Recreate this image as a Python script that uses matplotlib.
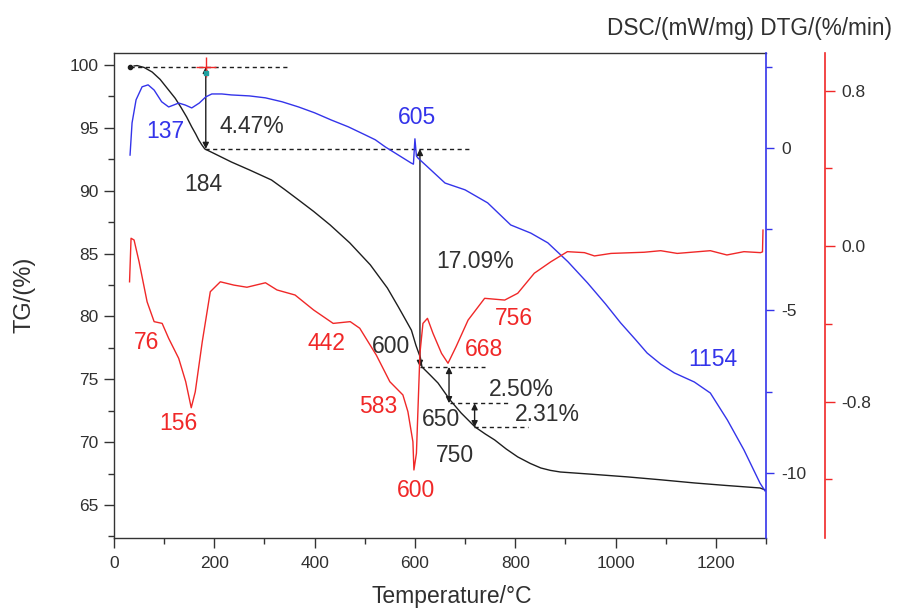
import matplotlib
matplotlib.use("Agg")
import matplotlib.pyplot as plt
from matplotlib.ticker import MultipleLocator, FixedLocator, FormatStrFormatter

plt.rcParams['font.family'] = ['Liberation Sans', 'DejaVu Sans']
plt.rcParams['axes.unicode_minus'] = False

# ---------------- data ----------------
tg_T = [40, 46, 60, 76, 92, 109, 122, 133, 145, 155, 163, 169, 175, 181, 200, 234, 270, 314,
        340, 368, 398, 431, 470, 511, 545, 567, 579, 593, 602, 611, 614, 630, 646, 670, 692,
        720, 740, 759, 782, 805, 830, 851, 870, 890, 950, 1024, 1090, 1157, 1220, 1288, 1298]
tg_val = [99.92, 99.95, 99.8, 99.44, 98.85, 98.0, 97.35, 96.66, 95.85, 95.07, 94.5, 94.03,
          93.65, 93.32, 92.95, 92.28, 91.65, 90.85, 90.1, 89.26, 88.35, 87.27, 85.85, 84.1,
          82.26, 80.75, 79.9, 78.9, 77.7, 76.7, 75.98, 75.35, 74.70, 73.35, 72.32, 71.20,
          70.65, 70.17, 69.45, 68.82, 68.3, 67.94, 67.75, 67.62, 67.45, 67.23, 67.0, 66.75,
          66.55, 66.35, 66.2]

dsc_T = [32, 36, 44, 56, 68, 80, 95, 109, 129, 142, 155, 170, 183, 195, 215, 234, 270, 302,
         335, 368, 400, 433, 467, 501, 521, 541, 567, 592, 597, 600, 603, 606, 632, 660, 700,
         745, 791, 831, 865, 905, 944, 980, 1010, 1040, 1063, 1090, 1117, 1157, 1189, 1223,
         1256, 1288, 1298]
dsc_val = [-0.22, 0.77, 1.48, 1.88, 1.94, 1.78, 1.42, 1.26, 1.38, 1.32, 1.23, 1.38, 1.57,
           1.66, 1.66, 1.63, 1.60, 1.54, 1.42, 1.26, 1.08, 0.86, 0.65, 0.40, 0.25, 0.03,
           -0.22, -0.46, -0.50, 0.28, -0.25, -0.31, -0.68, -1.08, -1.29, -1.69, -2.37,
           -2.62, -2.92, -3.50, -4.15, -4.80, -5.38, -5.90, -6.31, -6.65, -6.92, -7.20,
           -7.54, -8.37, -9.29, -10.31, -10.55]

dtg_T = [31, 34, 40, 50, 66, 80, 96, 109, 129, 143, 154, 162, 176, 192, 212, 239, 265, 302,
         325, 361, 398, 437, 471, 490, 523, 550, 576, 586, 596, 598, 603, 610, 616, 625, 636,
         653, 666, 682, 706, 739, 779, 805, 838, 871, 904, 938, 958, 991, 1057, 1090, 1123,
         1189, 1222, 1256, 1289, 1293, 1294]
dtg_val = [-0.184, 0.040, 0.031, -0.081, -0.287, -0.389, -0.398, -0.475, -0.578, -0.698,
           -0.832, -0.750, -0.492, -0.235, -0.184, -0.201, -0.212, -0.189, -0.226, -0.252,
           -0.329, -0.398, -0.389, -0.423, -0.561, -0.698, -0.766, -0.852, -1.007, -1.152,
           -1.066, -0.552, -0.398, -0.372, -0.449, -0.552, -0.603, -0.518, -0.381, -0.269,
           -0.278, -0.243, -0.140, -0.081, -0.029, -0.034, -0.051, -0.038, -0.032, -0.024,
           -0.038, -0.024, -0.046, -0.029, -0.034, -0.030, 0.082]

# TG step annotations: arrow temperature, upper level, lower level
step_T = [183, 610, 668, 719]
step_top = [99.84, 93.32, 75.98, 73.09]
step_bot = [93.32, 75.98, 73.09, 71.18]
# dashed reference lines (level, start T, end T)
dash_level = [99.84, 93.32, 75.98, 73.09, 71.18]
dash_T0 = [32, 181, 610, 669, 718]
dash_T1 = [348, 710, 740, 791, 825]

# labels: text, T, TG-position, colour key
lab_text = ['137', '4.47%', '184', '605', '17.09%', '76', '156', '442', '600', '583',
            '600', '668', '756', '2.50%', '650', '2.31%', '750', '1154']
lab_T = [103, 274, 179, 604, 720, 64, 129, 423, 553, 527, 602, 738, 797, 813, 652, 865, 680, 1193]
lab_y = [94.67, 95.07, 90.45, 95.78, 84.33, 77.89, 71.44, 77.81, 77.57, 72.87, 66.11, 77.33,
         79.87, 74.15, 71.76, 72.16, 68.90, 76.53]
lab_c = ['b', 'k', 'k', 'b', 'k', 'r', 'r', 'r', 'k', 'r', 'r', 'r', 'r', 'k', 'k', 'k', 'k', 'b']

BLUE = '#3434ea'
RED = '#f02828'
BLK = '#1e1e1e'
TXT = '#303030'
cmap = {'b': BLUE, 'r': RED, 'k': TXT}

# ---------------- figure ----------------
fig = plt.figure(figsize=(8.98, 6.08), dpi=100)
ax = fig.add_axes([114/898, 1-538/608, 652/898, 485/608])
ax2 = ax.twinx()
ax3 = ax.twinx()

ax.plot(tg_T, tg_val, color=BLK, lw=1.0, zorder=3)
ax2.plot(dsc_T, dsc_val, color=BLUE, lw=1.0)
ax3.plot(dtg_T, dtg_val, color=RED, lw=1.0)

ax.set_xlim(0, 1300)
ax.set_ylim(62.37, 100.95)
ax2.set_ylim(-12.0, 2.92)
ax3.set_ylim(-1.502, 0.993)

# annotations
for lv, t0, t1 in zip(dash_level, dash_T0, dash_T1):
    ax.plot([t0, t1], [lv, lv], color=BLK, lw=1.0, ls=(0, (3, 2.5)), zorder=2)
for t, a, b in zip(step_T, step_top, step_bot):
    ax.annotate('', xy=(t, b), xytext=(t, a),
                arrowprops=dict(arrowstyle='<|-|>', color=BLK, lw=1.0,
                                mutation_scale=9, shrinkA=0, shrinkB=0), zorder=4)
ax.plot([dash_T0[0]], [dash_level[0]], 'o', color=BLK, ms=3, zorder=4)
ax.plot([step_T[0]], [step_top[0]], '+', color=RED, ms=14, mew=1.0, zorder=5)
ax.plot([step_T[0]], [step_top[0] - 0.45], 's', color='#20a0a0', ms=3, zorder=6)

for s, t, y, c in zip(lab_text, lab_T, lab_y, lab_c):
    ax.text(t, y, s, color=cmap[c], fontsize=16.5, ha='center', va='center', zorder=6)

# ---------------- axes styling ----------------
ax.spines['right'].set_visible(False)
for sp in ['left', 'bottom', 'top']:
    ax.spines[sp].set_color('#333333')
    ax.spines[sp].set_linewidth(1.0)
ax.xaxis.set_major_locator(MultipleLocator(200))
ax.xaxis.set_minor_locator(MultipleLocator(100))
ax.yaxis.set_major_locator(MultipleLocator(5))
ax.yaxis.set_minor_locator(MultipleLocator(2.5))
ax.tick_params(axis='both', which='major', direction='out', length=7, width=1.0,
               color='#333333', labelsize=12.5, labelcolor=TXT, pad=4)
ax.tick_params(axis='both', which='minor', direction='out', length=4.5, width=1.0, color='#333333')
ax.tick_params(axis='x', pad=6)

for sp in ['left', 'bottom', 'top']:
    ax2.spines[sp].set_visible(False)
ax2.spines['right'].set_color(BLUE)
ax2.spines['right'].set_linewidth(1.2)
ax2.yaxis.set_major_locator(FixedLocator([-10, -5, 0]))
ax2.yaxis.set_minor_locator(FixedLocator([-7.5, -2.5, 2.5]))
ax2.tick_params(axis='y', which='major', direction='out', length=6, width=1.0, color=BLUE,
                labelsize=12.5, labelcolor=TXT, pad=5)
ax2.tick_params(axis='y', which='minor', direction='out', length=4, width=1.0, color=BLUE)

for sp in ['left', 'bottom', 'top']:
    ax3.spines[sp].set_visible(False)
ax3.spines['right'].set_position(('axes', 1 + 59/652))
ax3.spines['right'].set_color(RED)
ax3.spines['right'].set_linewidth(1.2)
ax3.yaxis.set_major_locator(FixedLocator([-0.8, 0.0, 0.8]))
ax3.yaxis.set_minor_locator(FixedLocator([-1.2, -0.4, 0.4]))
ax3.yaxis.set_major_formatter(FormatStrFormatter('%.1f'))
ax3.tick_params(axis='y', which='major', direction='out', length=7, width=1.0, color=RED,
                labelsize=12.5, labelcolor=TXT, pad=5)
ax3.tick_params(axis='y', which='minor', direction='out', length=5, width=1.0, color=RED)

fig.text(25/898, 1-295/608, 'TG/(%)', rotation=90, ha='center', va='center',
         fontsize=17, color=TXT)
fig.text(452/898, 1-597/608, 'Temperature/°C', ha='center', va='center',
         fontsize=16.5, color=TXT)
fig.text(892/898, 1-28/608, 'DSC/(mW/mg) DTG/(%/min)', ha='right', va='center',
         fontsize=16.3, color=TXT)

fig.savefig('out.png', dpi=100)
